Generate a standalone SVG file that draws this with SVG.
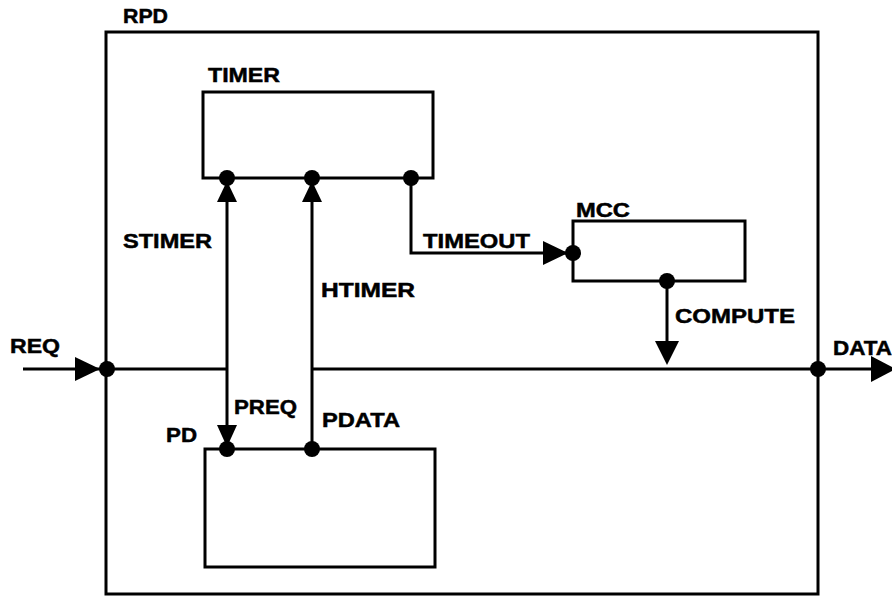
<svg xmlns="http://www.w3.org/2000/svg" width="892" height="597" viewBox="0 0 892 597">
<style>
.box{fill:none;stroke:#000;stroke-width:3}
.ln{fill:none;stroke:#000;stroke-width:3}
.dot{fill:#000}
.ah{fill:#000}
text{font-family:"Liberation Sans",Arial,sans-serif;font-weight:bold;font-size:21px;fill:#000;stroke:#000;stroke-width:0.5}
</style>
<rect width="892" height="597" fill="#fff"/>
<g id="RPD">
<rect class="box" x="106" y="32" width="712" height="562"/>
<text x="123" y="23" textLength="45" lengthAdjust="spacingAndGlyphs">RPD</text>
</g>
<g id="TIMER">
<rect class="box" x="203" y="92" width="230" height="86"/>
<text x="208" y="82" textLength="72" lengthAdjust="spacingAndGlyphs">TIMER</text>
</g>
<g id="MCC">
<rect class="box" x="573" y="221" width="172" height="60"/>
<text x="576" y="217" textLength="54" lengthAdjust="spacingAndGlyphs">MCC</text>
</g>
<g id="PD">
<rect class="box" x="205" y="449" width="230" height="118"/>
<text x="166" y="442" textLength="31" lengthAdjust="spacingAndGlyphs">PD</text>
</g>
<g id="connectors">
<path class="ln" d="M23 369H100"/>
<path class="ln" d="M107 369H227"/>
<path class="ln" d="M227 180V445"/>
<path class="ln" d="M312 180V449"/>
<path class="ln" d="M312 369H885"/>
<path class="ln" d="M411 178V253H566"/>
<path class="ln" d="M667 281V360"/>
<polygon class="ah" points="100,369 75,357 75,381"/>
<polygon class="ah" points="227,181 217,202 237,202"/>
<polygon class="ah" points="312,181 302,202 322,202"/>
<polygon class="ah" points="227,447 217,425 237,425"/>
<polygon class="ah" points="568,253 543,241 543,265"/>
<polygon class="ah" points="667,365 655,341 679,341"/>
<polygon class="ah" points="896,369 871,356 871,382"/>
<circle class="dot" cx="107" cy="369" r="8"/>
<circle class="dot" cx="227" cy="178" r="8"/>
<circle class="dot" cx="312" cy="178" r="8"/>
<circle class="dot" cx="411" cy="178" r="8"/>
<circle class="dot" cx="573" cy="253" r="8"/>
<circle class="dot" cx="667" cy="281" r="8"/>
<circle class="dot" cx="818" cy="369" r="8"/>
<circle class="dot" cx="227" cy="449" r="8"/>
<circle class="dot" cx="312" cy="449" r="8"/>
<text x="10" y="353" textLength="50" lengthAdjust="spacingAndGlyphs">REQ</text>
<text x="833" y="355" textLength="59" lengthAdjust="spacingAndGlyphs">DATA</text>
<text x="123" y="248" textLength="89" lengthAdjust="spacingAndGlyphs">STIMER</text>
<text x="321" y="297" textLength="94" lengthAdjust="spacingAndGlyphs">HTIMER</text>
<text x="423" y="248" textLength="107" lengthAdjust="spacingAndGlyphs">TIMEOUT</text>
<text x="675" y="323" textLength="120" lengthAdjust="spacingAndGlyphs">COMPUTE</text>
<text x="234" y="414" textLength="63" lengthAdjust="spacingAndGlyphs">PREQ</text>
<text x="322" y="427" textLength="78" lengthAdjust="spacingAndGlyphs">PDATA</text>
</g>
</svg>
